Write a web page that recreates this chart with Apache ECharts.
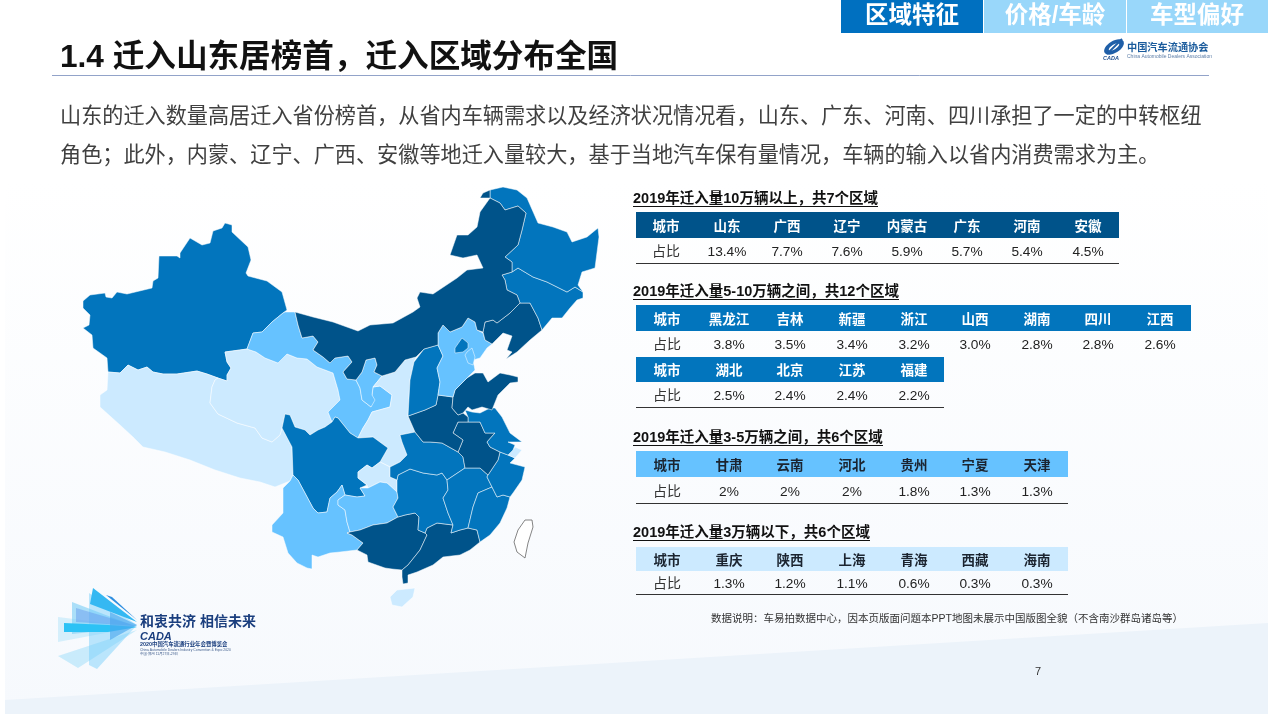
<!DOCTYPE html>
<html lang="zh-CN">
<head>
  <meta charset="utf-8">
</head>
<body style="margin: 0; background: #fff">
  <div id="container" style="width: 1268px; height: 714px"></div>
  <script type="text/javascript" src="https://cdn.jsdelivr.net/npm/echarts@6/dist/echarts.min.js"></script>
  <script type="text/javascript">
    // table data, one block per volume tier
    var headings = [
      '2019年迁入量10万辆以上，共7个区域',
      '2019年迁入量5-10万辆之间，共12个区域',
      '2019年迁入量3-5万辆之间，共6个区域',
      '2019年迁入量3万辆以下，共6个区域'
    ];
    var tier1Names = ['山东', '广西', '辽宁', '内蒙古', '广东', '河南', '安徽'];
    var tier1Shares = ['13.4%', '7.7%', '7.6%', '5.9%', '5.7%', '5.4%', '4.5%'];
    var tier2aNames = ['黑龙江', '吉林', '新疆', '浙江', '山西', '湖南', '四川', '江西'];
    var tier2aShares = ['3.8%', '3.5%', '3.4%', '3.2%', '3.0%', '2.8%', '2.8%', '2.6%'];
    var tier2bNames = ['湖北', '北京', '江苏', '福建'];
    var tier2bShares = ['2.5%', '2.4%', '2.4%', '2.2%'];
    var tier3Names = ['甘肃', '云南', '河北', '贵州', '宁夏', '天津'];
    var tier3Shares = ['2%', '2%', '2%', '1.8%', '1.3%', '1.3%'];
    var tier4Names = ['重庆', '陕西', '上海', '青海', '西藏', '海南'];
    var tier4Shares = ['1.3%', '1.2%', '1.1%', '0.6%', '0.3%', '0.3%'];

    var tierColors = ['#00538A', '#0275BD', '#66C2FF', '#CCEAFF'];

    // province outlines, x right / y down
    var outlines = {
      '新疆': [83,301,90,295,105,293,106,297,112,298,117,292,127,294,152,288,153,281,158,278,159,256,177,256,180,258,180,253,190,238,202,245,210,243,213,231,222,228,225,223,232,225,232,232,248,247,251,260,246,273,248,276,267,281,282,292,287,310,283,313,272,322,262,332,253,333,247,349,225,352,227,362,231,368,227,375,227,381,218,378,207,374,197,371,177,374,163,374,153,372,147,367,138,370,128,365,120,373,108,372,107,358,93,348,92,335,83,328,89,325,90,315,83,308],
      '西藏': [108,372,120,373,128,365,138,370,147,367,153,372,163,374,177,374,197,371,207,374,218,378,215,380,212,387,210,403,218,414,237,423,255,428,262,438,272,442,280,435,282,428,292,447,293,475,290,481,275,487,260,482,240,478,215,470,190,460,165,452,143,447,133,437,120,425,100,407,100,395,107,390],
      '青海': [225,352,247,349,256,352,265,358,278,363,287,354,297,358,307,359,317,367,333,373,338,390,340,400,328,412,332,422,325,427,318,430,310,435,305,430,295,427,290,415,285,414,282,428,280,435,272,442,262,438,255,428,237,423,218,414,210,403,212,387,215,380,218,378,227,381,227,375,231,368,227,362],
      '甘肃': [247,349,253,333,262,332,272,322,283,313,285,312,295,312,298,325,302,338,313,336,318,342,313,350,323,357,330,363,335,358,348,356,352,362,343,372,347,379,356,380,360,388,362,400,371,407,372,395,373,387,380,386,392,395,390,407,372,412,368,420,363,428,358,438,350,433,338,418,335,417,332,422,328,412,340,400,338,390,333,373,317,367,307,359,297,358,287,354,278,363,265,358,256,352],
      '宁夏': [356,380,362,372,366,360,375,358,377,365,374,372,382,376,373,387,372,395,375,400,371,407,362,400,360,388],
      '陕西': [382,376,395,372,405,360,416,357,414,362,410,380,408,416,415,432,400,435,402,442,407,455,400,462,390,467,380,462,388,448,373,437,358,438,363,428,368,420,372,412,390,407,392,395,380,386,373,387],
      '四川': [285,414,290,415,295,427,305,430,310,435,318,430,325,427,332,422,335,417,338,418,350,433,358,438,373,437,388,448,380,462,372,468,367,465,358,472,358,478,367,485,360,488,365,496,357,497,345,495,342,485,337,492,330,498,327,512,318,513,313,508,298,480,293,475,292,447,282,428],
      '重庆': [372,468,380,462,390,467,390,477,397,480,397,492,387,483,380,482,368,488,367,485,358,478,358,472,367,465],
      '云南': [272,525,283,513,283,488,290,481,293,475,298,480,313,508,318,513,327,512,330,498,337,492,342,485,345,495,338,500,338,505,345,510,347,522,350,532,347,533,352,535,363,543,357,550,340,552,330,553,318,557,312,555,312,569,307,568,297,563,288,553,283,537,272,532],
      '贵州': [345,495,357,497,365,496,360,488,368,488,380,482,387,483,397,492,398,498,393,507,398,517,387,523,373,525,360,530,350,532,347,522,345,510,338,505,338,500],
      '广西': [347,533,350,532,360,530,373,525,387,523,398,517,405,515,415,513,419,517,418,530,425,533,427,535,420,550,408,565,402,570,392,569,385,568,368,562,367,555,357,550,363,543,352,535],
      '广东': [425,533,427,528,437,523,453,525,451,533,460,530,468,528,477,530,480,542,470,550,460,555,443,557,433,565,417,572,408,575,408,583,403,584,402,577,402,570,408,565,420,550,427,535],
      '海南': [390,597,397,590,415,588,413,597,402,607,392,605],
      '台湾': [525,520,532,520,533,527,528,543,525,558,517,552,514,542,518,530],
      '湖南': [398,475,410,469,423,473,437,475,442,473,447,480,448,490,443,498,448,513,453,525,437,523,427,528,425,533,418,530,419,517,415,513,405,515,398,517,393,507,398,498,397,492,397,480],
      '湖北': [390,467,400,462,407,455,402,442,400,435,415,432,423,442,430,442,442,443,458,452,463,457,465,468,447,480,442,473,437,475,423,473,410,469,398,475,397,480,390,477],
      '江西': [447,480,465,468,472,468,480,468,488,475,487,477,492,487,478,493,473,507,468,528,460,530,451,533,453,525,448,513,443,498,448,490],
      '福建': [492,487,497,497,503,495,510,497,507,508,500,523,490,535,480,542,477,530,468,528,473,507,478,493],
      '浙江': [500,452,508,455,515,458,510,463,525,467,522,480,513,493,510,497,503,495,497,497,492,487,487,477,488,475,490,472,498,460],
      '上海': [515,447,522,450,515,458,508,455,513,450],
      '安徽': [458,422,468,422,480,422,485,433,495,433,487,442,490,447,500,452,498,460,490,472,488,475,480,468,472,468,465,468,463,457,458,452,463,440,453,433],
      '江苏': [468,417,465,410,472,412,480,413,490,408,495,408,502,417,510,433,522,442,508,442,515,445,513,450,508,455,500,452,490,447,487,442,495,433,485,433,480,422,468,422],
      '河南': [408,416,425,410,436,405,438,395,453,397,452,408,458,415,463,413,468,417,468,422,458,422,453,433,463,440,458,452,442,443,430,442,423,442,415,432],
      '山东': [453,397,455,390,467,378,475,373,483,373,488,382,500,373,510,375,518,377,518,382,510,383,498,395,492,410,482,407,472,410,468,407,463,413,458,415,452,408],
      '山西': [424,349,438,345,443,356,437,368,440,382,438,395,436,405,425,410,408,416,410,380,414,362],
      '河北': [438,333,443,325,450,332,462,327,468,318,475,322,477,330,483,333,485,340,492,344,487,348,480,358,473,360,475,370,467,378,455,390,453,397,438,395,440,382,437,368,443,356,438,345],
      '北京': [455,348,462,338,468,343,468,348,463,352,455,353],
      '天津': [467,352,472,348,475,357,473,365,468,363,465,355],
      '辽宁': [483,332,485,322,493,320,497,323,510,313,520,303,530,303,538,318,542,330,530,340,517,352,506,359,512,352,507,350,512,336,503,333,492,344,485,340],
      '吉林': [502,275,512,272,518,268,533,277,547,282,557,287,567,292,575,287,583,292,583,298,577,300,570,308,562,318,552,318,542,330,538,318,530,303,520,303,517,295,507,290,505,280],
      '黑龙江': [490,190,503,187,517,190,527,198,538,223,553,227,567,232,572,242,587,237,598,228,599,237,595,268,582,272,578,285,583,292,575,287,567,292,557,287,547,282,533,277,518,268,512,272,512,262,505,257,518,245,522,230,526,213,518,206,505,210,500,203,490,198],
      '内蒙古': [295,312,313,317,333,322,358,331,370,325,393,323,413,312,420,307,417,298,420,292,433,294,457,278,467,270,483,268,477,255,463,258,450,255,457,235,468,235,477,227,480,212,490,198,480,198,483,193,490,190,490,198,500,203,505,210,518,206,526,213,522,230,518,245,505,257,512,262,512,272,502,275,505,280,507,290,517,295,520,303,510,313,497,323,493,320,485,322,483,332,477,330,475,322,468,318,462,327,450,332,443,325,438,333,438,345,424,349,416,357,405,360,395,372,382,376,374,372,377,365,375,358,366,360,362,372,356,380,347,379,343,372,352,362,348,356,335,358,330,363,323,357,313,350,318,342,313,336,302,338,298,325]
    };

    var font = '"Liberation Sans", "Noto Sans CJK SC", sans-serif';

    var features = Object.keys(outlines).map(function (name) {
      var flat = outlines[name], ring = [];
      for (var i = 0; i < flat.length; i += 2) {
        ring.push([flat[i], -flat[i + 1]]);
      }
      ring.push(ring[0]);
      return {
        type: 'Feature',
        properties: { name: name },
        geometry: { type: 'Polygon', coordinates: [ring] }
      };
    });
    echarts.registerMap('slide', { type: 'FeatureCollection', features: features });

    var mapTiers = [tier1Names, tier2aNames.concat(tier2bNames), tier3Names, tier4Names];
    var mapData = [];
    mapTiers.forEach(function (names, t) {
      names.forEach(function (n) {
        mapData.push({ name: n, value: t });
      });
    });
    mapData.push({ name: '台湾', itemStyle: { areaColor: '#fff', borderColor: '#666', borderWidth: 0.8 } });

    // graphic helpers
    var els = [];
    function text(str, x, y, size, color, opts) {
      opts = opts || {};
      els.push({
        type: 'text',
        z: 5,
        style: {
          text: str, x: x, y: y + 1,
          fontSize: size,
          fontFamily: font,
          fontWeight: opts.weight || 'normal',
          fontStyle: opts.italic ? 'italic' : 'normal',
          fill: color,
          align: opts.align || 'left',
          verticalAlign: 'middle'
        }
      });
    }
    function rect(x, y, w, h, color, z) {
      els.push({ type: 'rect', z: z === undefined ? 1 : z, shape: { x: x, y: y, width: w, height: h }, style: { fill: color } });
    }
    function hline(x1, x2, y, color, w) {
      els.push({ type: 'line', z: 2, shape: { x1: x1, y1: y + 0.5, x2: x2, y2: y + 0.5 }, style: { stroke: color, lineWidth: w || 1 } });
    }
    function poly(points, color, z) {
      els.push({ type: 'polygon', z: z === undefined ? 1 : z, shape: { points: points }, style: { fill: color } });
    }

    // background
    els.push({
      type: 'rect', z: -3,
      shape: { x: 5, y: 180, width: 1263, height: 534 },
      style: {
        fill: { type: 'linear', x: 0, y: 0, x2: 0, y2: 1, colorStops: [
          { offset: 0, color: '#FFFFFF' },
          { offset: 1, color: '#F6F9FD' }
        ] }
      }
    });
    poly([[5, 700], [1268, 623], [1268, 714], [5, 714]], '#ECF3FA', -2);

    // tabs
    rect(841, 0, 142, 33, '#0070C0');
    rect(984, 0, 142, 33, '#99D7FA');
    rect(1127, 0, 141, 33, '#99D7FA');
    text('区域特征', 912, 16, 23.5, '#fff', { weight: 'bold', align: 'center' });
    text('价格/车龄', 1055, 16, 23.5, '#fff', { weight: 'bold', align: 'center' });
    text('车型偏好', 1197, 16, 23.5, '#fff', { weight: 'bold', align: 'center' });

    // title and body
    text('1.4 迁入山东居榜首，迁入区域分布全国', 60, 57, 31.6, '#111', { weight: 'bold' });
    hline(52, 1209, 75, '#92A3C9', 1);
    text('山东的迁入数量高居迁入省份榜首，从省内车辆需求以及经济状况情况看，山东、广东、河南、四川承担了一定的中转枢纽', 60, 116, 21.15, '#404040');
    text('角色；此外，内蒙、辽宁、广西、安徽等地迁入量较大，基于当地汽车保有量情况，车辆的输入以省内消费需求为主。', 60, 155, 21.15, '#404040');

    // association logo, top right
    els.push({ type: 'ellipse', z: 3, x: 1114, y: 47, rotation: 0.55, shape: { cx: 0, cy: 0, rx: 11, ry: 6 }, style: { fill: '#1F5FA8' } });
    els.push({ type: 'ellipse', z: 3, x: 1114, y: 47, rotation: 0.55, shape: { cx: 0, cy: 0, rx: 6, ry: 2.4 }, style: { fill: '#fff' } });
    els.push({ type: 'line', z: 4, shape: { x1: 1107, y1: 54, x2: 1122, y2: 39 }, style: { stroke: '#1F5FA8', lineWidth: 2 } });
    text('CADA', 1103, 57, 5.5, '#1F4F8F', { weight: 'bold', italic: true });
    text('中国汽车流通协会', 1127, 47, 10.2, '#1A5B9C', { weight: 'bold' });
    text('China Automobile Dealers Association', 1127, 56, 5, '#5D7EA8');

    // tables
    var colsA = [666, 727, 787, 847, 907, 967, 1027, 1088];
    var colsB = [667, 729, 790, 852, 914, 975, 1037, 1098, 1160];

    function block(headIdx, headY, headW) {
      text(headings[headIdx], 633, headY, 14.5, '#111', { weight: 'bold' });
      hline(633, 633 + headW, headY + 8, '#111', 1);
    }
    function table(names, shares, cols, color, headColor, top, h, valueY, right, lineY) {
      rect(636, top, right - 636, h, color);
      text('城市', cols[0], top + h / 2 + 1, 13.5, headColor, { weight: 'bold', align: 'center' });
      text('占比', cols[0], valueY, 14, '#333', { align: 'center' });
      names.forEach(function (n, i) {
        text(n, cols[i + 1], top + h / 2 + 1, 13.5, headColor, { weight: 'bold', align: 'center' });
        text(shares[i], cols[i + 1], valueY, 13.7, '#222', { align: 'center' });
      });
      if (lineY) {
        hline(636, right, lineY, '#333', 1);
      }
    }

    block(0, 198, 245);
    table(tier1Names, tier1Shares, colsA, tierColors[0], '#fff', 212, 26, 251, 1119, 263);
    block(1, 291, 266);
    table(tier2aNames, tier2aShares, colsB, tierColors[1], '#fff', 305, 26, 344, 1191);
    table(tier2bNames, tier2bShares, colsB, tierColors[1], '#fff', 357, 25, 395, 944, 407);
    block(2, 437, 250);
    table(tier3Names, tier3Shares, colsB, tierColors[2], '#1B2430', 451, 26, 491, 1068, 503);
    block(3, 532, 237);
    table(tier4Names, tier4Shares, colsB, tierColors[3], '#1B2430', 547, 24, 583, 1068, 594);

    text('数据说明：车易拍数据中心，因本页版面问题本PPT地图未展示中国版图全貌（不含南沙群岛诸岛等）', 1183, 618, 10.5, '#333', { align: 'right' });
    text('7', 1038, 671, 11, '#333', { align: 'center' });

    // conference logo, bottom left
    poly([[58, 617], [137, 627], [58, 642]], 'rgba(190,232,250,0.6)');
    poly([[58, 656], [78, 668], [137, 630]], 'rgba(170,225,250,0.6)');
    poly([[72, 602], [137, 627], [72, 634]], 'rgba(120,205,245,0.6)');
    poly([[89, 593], [137, 625], [97, 669], [89, 665]], 'rgba(110,205,250,0.45)');
    poly([[76, 608], [137, 626], [76, 622]], 'rgba(90,140,235,0.4)');
    poly([[93, 588], [137, 622], [90, 604]], '#35B8F2');
    poly([[106, 595], [137, 620], [112, 597]], '#2F8FE0');
    poly([[64, 623], [108, 625], [137, 627], [108, 632], [64, 632]], '#2CC2F5');
    poly([[110, 612], [137, 625], [110, 640]], 'rgba(74,168,238,0.65)');
    text('和衷共济 相信未来', 140, 621, 14, '#1A3E7E', { weight: 'bold' });
    text('CADA', 140, 636, 11, '#1A3E7E', { weight: 'bold', italic: true });
    text('2020中国汽车流通行业年会暨博览会', 140, 644, 5.4, '#1A3E7E', { weight: 'bold' });
    text('China Automobile Dealers Industry Convention & Expo 2020', 140, 649, 3.4, '#44618F');
    text('中国·郑州 11月27日-29日', 140, 653, 3.4, '#44618F');

    var myChart = echarts.init(document.getElementById('container'));
    myChart.setOption({
      animation: false,
      backgroundColor: '#fff',
      visualMap: {
        show: false,
        type: 'piecewise',
        seriesIndex: 0,
        pieces: tierColors.map(function (c, i) {
          return { value: i, color: c };
        })
      },
      series: [
        {
          type: 'map',
          map: 'slide',
          silent: true,
          roam: false,
          aspectScale: 1,
          boundingCoords: [[0, 0], [1268, -714]],
          left: 0,
          top: 0,
          width: 1268,
          height: 714,
          z: 2,
          label: { show: false },
          emphasis: { disabled: true },
          select: { disabled: true },
          itemStyle: { areaColor: '#fff', borderColor: '#fff', borderWidth: 0.5 },
          data: mapData
        }
      ],
      graphic: { elements: els }
    });
  </script>
</body>
</html>
